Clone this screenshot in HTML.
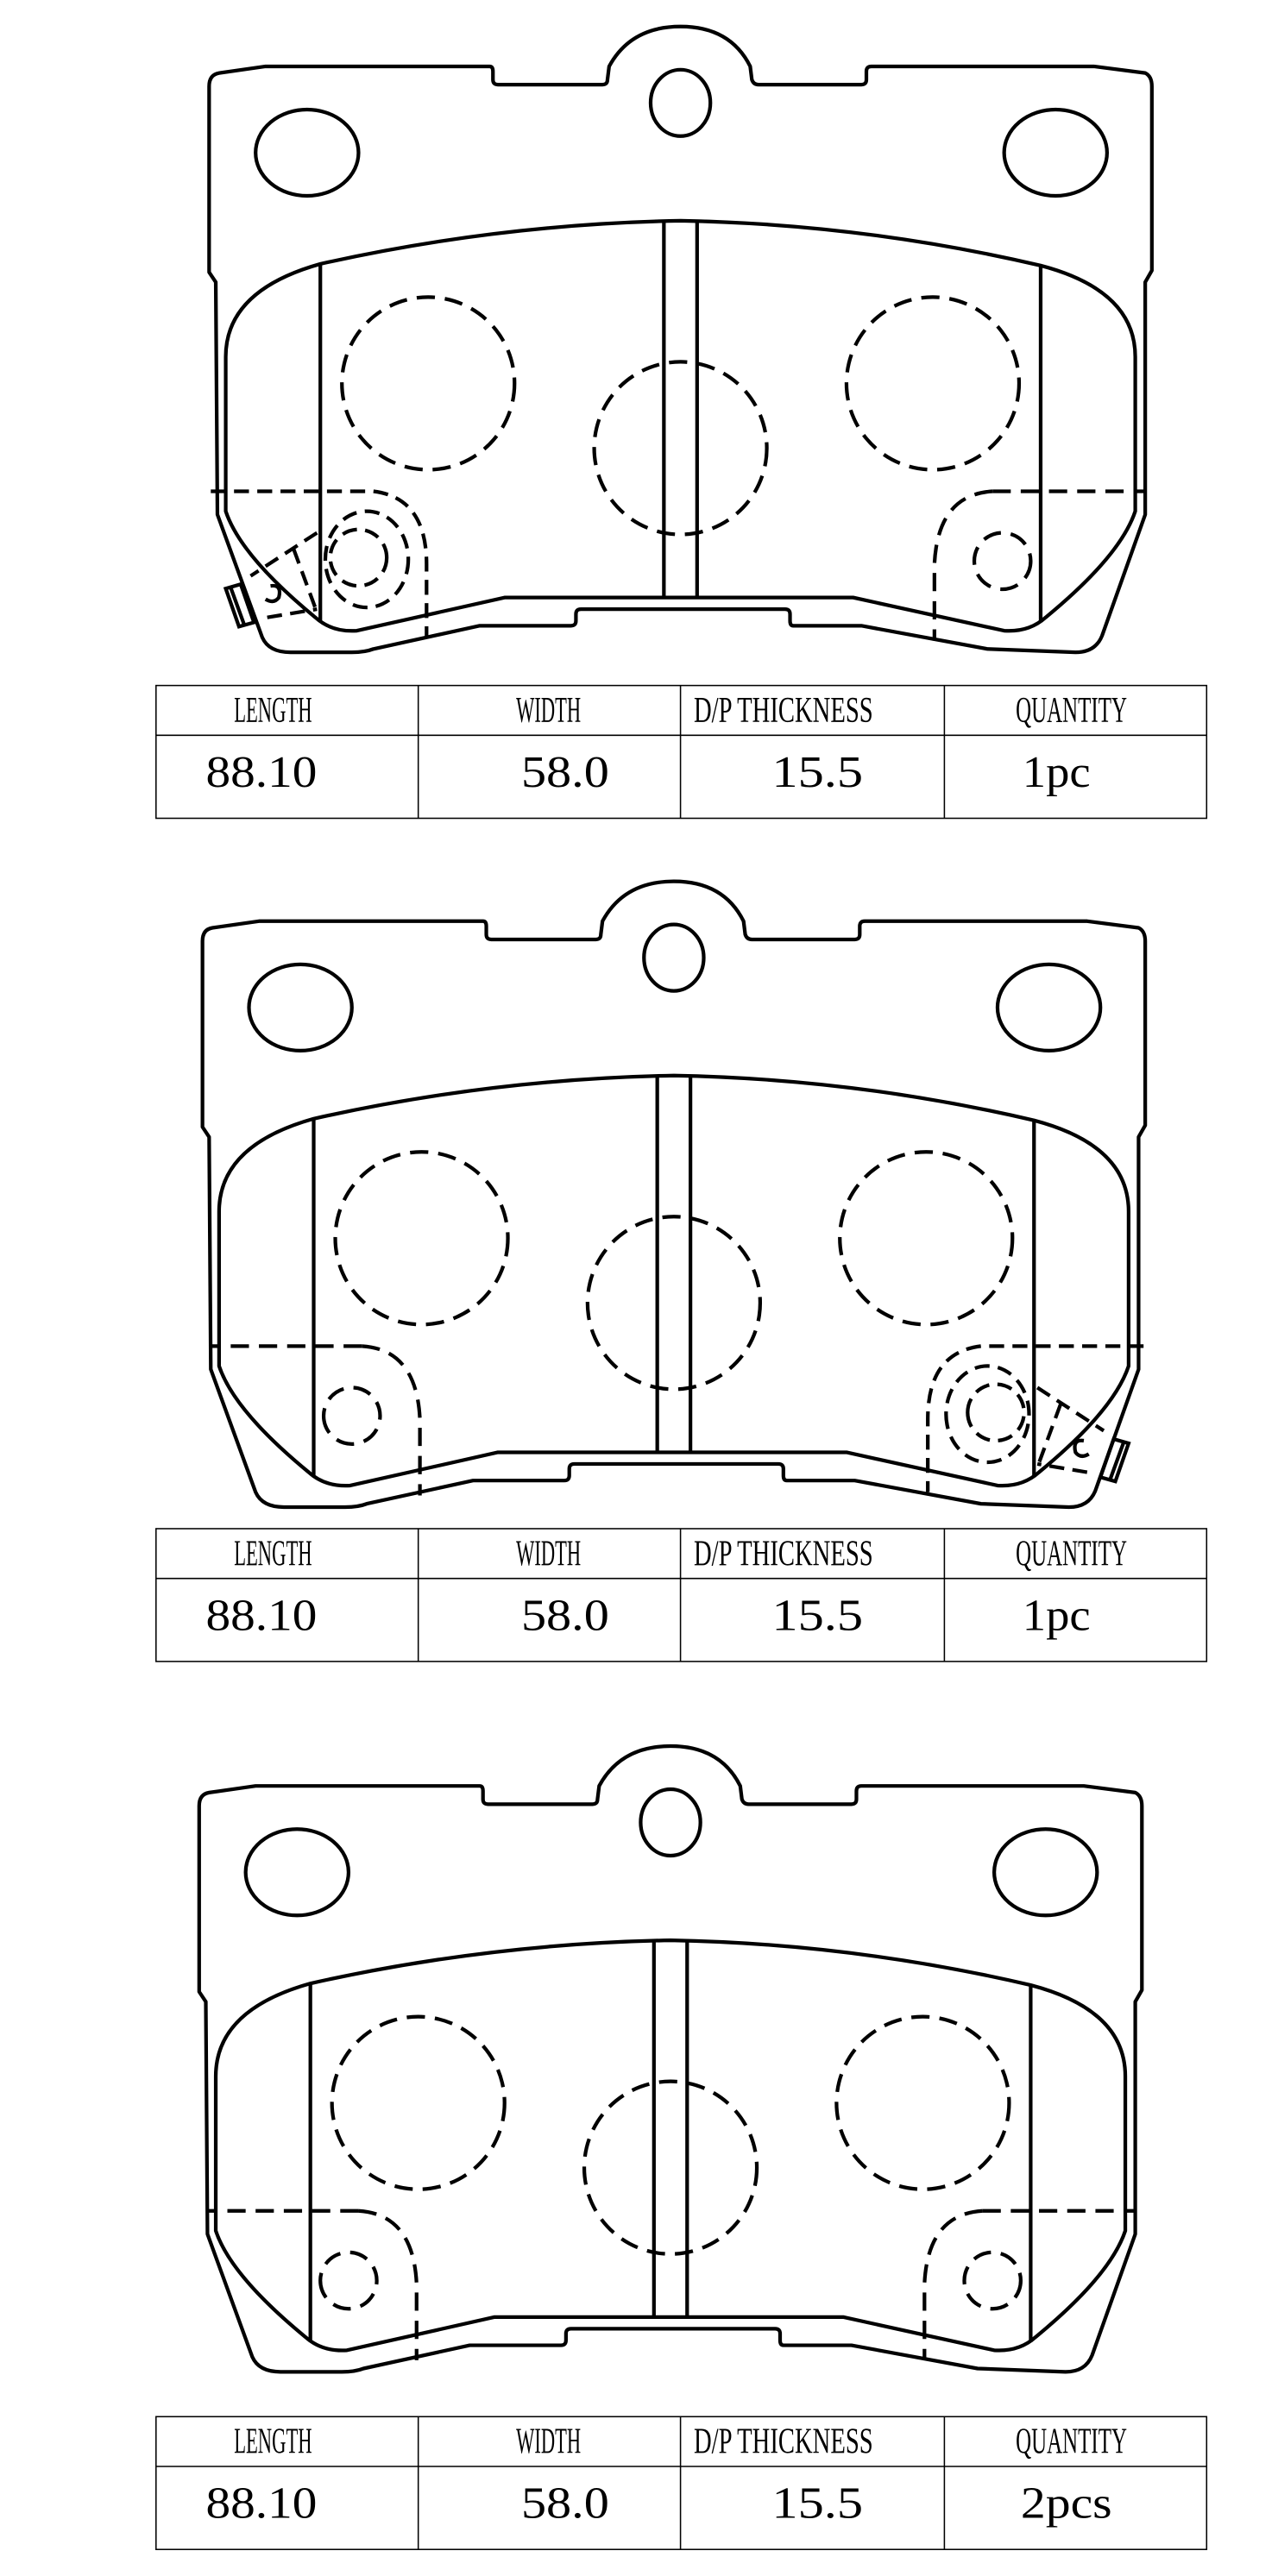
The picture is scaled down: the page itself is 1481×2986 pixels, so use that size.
<!DOCTYPE html>
<html><head><meta charset="utf-8"><style>
html,body{margin:0;padding:0;background:#fff;}
svg{display:block;}
</style></head><body>
<svg width="1481" height="2986" viewBox="0 0 770 1552" preserveAspectRatio="none" xmlns="http://www.w3.org/2000/svg">
<defs>
<g id="body" fill="none" stroke="#000" stroke-width="2.2" stroke-linejoin="round">
<path d="M126,52 Q126,45 132,44 L160,40 L295,40 Q297,40 297,43 L297,48 Q297,51 300,51 L363,51 Q366,51 366,48 L367,40 Q380,16 410,16 Q440,16 452,40 L453,48 Q454,51 457,51 L519,51 Q522,51 522,48 L522,43 Q522,40 525,40 L659,40 L690,44 Q694,46 694,52 L694,163 L690,170 L690,310 L664,383 Q660,393 648,393 L595,391 L519,377 L478,377 Q476,377 476,374 L476,370 Q476,367 473,367 L350,367 Q347,367 347,370 L347,374 Q347,377 344,377 L289,377 L225,391 Q220,393 212,393 L175,393 Q162,393 158,384 L131,310 L130,170 L126,164 Z"/>
<path d="M193,159 Q300,135 410,133 Q520,135 627,160 Q684,175 684,215 L684,308 Q675,335 630,372 Q620,381 605,380 L514,360 L304,360 L215,380 Q200,381 190,372 Q145,335 136,308 L136,215 Q136,175 193,159 Z"/>
<path d="M193,159 L193,375 M627,160 L627,375 M400,133 L400,360 M420,133 L420,360"/>
<ellipse cx="185" cy="92" rx="31" ry="26"/>
<ellipse cx="636" cy="92" rx="31" ry="26"/>
<ellipse cx="410" cy="62" rx="18" ry="20"/>
<g stroke-dasharray="11,6">
<ellipse cx="258" cy="231" rx="52" ry="52"/>
<ellipse cx="562" cy="231" rx="52" ry="52"/>
<ellipse cx="410" cy="270" rx="52" ry="52"/>
</g>
</g>
<g id="simpleR" fill="none" stroke="#000" stroke-width="2.2" stroke-dasharray="11,6">
<path d="M598,296 L690,296"/>
<path d="M598,296 Q565,298 563,340 L563,386"/>
<ellipse cx="604" cy="338" rx="17" ry="17"/>
</g>
<g id="sensorL" fill="none" stroke="#000" stroke-width="2.2">
<g stroke-dasharray="9,5">
<path d="M127,296 L225,296"/>
<path d="M225,296 Q257,300 257,340 L257,384"/>
<ellipse cx="216" cy="336" rx="17" ry="17"/>
<ellipse cx="221" cy="337" rx="25" ry="29"/>
<path d="M191,321 L151,347 M161,372 L191,367 M177,331 L191,369"/>
</g>
<path d="M136,354.6 L145,352 L153,375 L144,377.5 Z M139,354 L147,376"/>
<path d="M163,353 Q170,352 168,360 Q165,364 160,361"/>
</g>
<g id="table" fill="none" stroke="#000" stroke-width="0.8">
<rect x="94" y="413" width="633" height="80"/>
<path d="M94,443 L727,443 M252,413 L252,493 M410,413 L410,493 M569,413 L569,493"/>
</g>
<g id="heads" font-family="'Liberation Serif', serif" fill="#000">
<text x="141" y="435" font-size="22" textLength="47" lengthAdjust="spacingAndGlyphs">LENGTH</text>
<text x="311" y="435" font-size="22" textLength="39" lengthAdjust="spacingAndGlyphs">WIDTH</text>
<text x="418" y="435" font-size="22" textLength="108" lengthAdjust="spacingAndGlyphs">D/P THICKNESS</text>
<text x="612" y="435" font-size="22" textLength="67" lengthAdjust="spacingAndGlyphs">QUANTITY</text>
<text x="124" y="474" font-size="27" textLength="67" lengthAdjust="spacingAndGlyphs">88.10</text>
<text x="314" y="474" font-size="27" textLength="53" lengthAdjust="spacingAndGlyphs">58.0</text>
<text x="465" y="474" font-size="27" textLength="55" lengthAdjust="spacingAndGlyphs">15.5</text>
</g>
</defs>

<use href="#body"/>
<use href="#simpleR"/>
<use href="#sensorL"/>
<use href="#table"/>
<use href="#heads"/>
<text x="616" y="474" font-family="'Liberation Serif', serif" font-size="27" textLength="41" lengthAdjust="spacingAndGlyphs">1pc</text>

<g transform="translate(-4,515)">
<use href="#body"/>
<g transform="translate(820,0) scale(-1,1)"><use href="#simpleR"/><use href="#sensorL"/></g>
</g>
<g transform="translate(0,508)">
<use href="#table"/>
<use href="#heads"/>
<text x="616" y="474" font-family="'Liberation Serif', serif" font-size="27" textLength="41" lengthAdjust="spacingAndGlyphs">1pc</text>
</g>

<g transform="translate(-6,1036)">
<use href="#body"/>
<use href="#simpleR"/>
<g transform="translate(820,0) scale(-1,1)"><use href="#simpleR"/></g>
</g>
<g transform="translate(0,1043)">
<use href="#table"/>
<use href="#heads"/>
<text x="615" y="474" font-family="'Liberation Serif', serif" font-size="27" textLength="55" lengthAdjust="spacingAndGlyphs">2pcs</text>
</g>
</svg>
</body></html>
